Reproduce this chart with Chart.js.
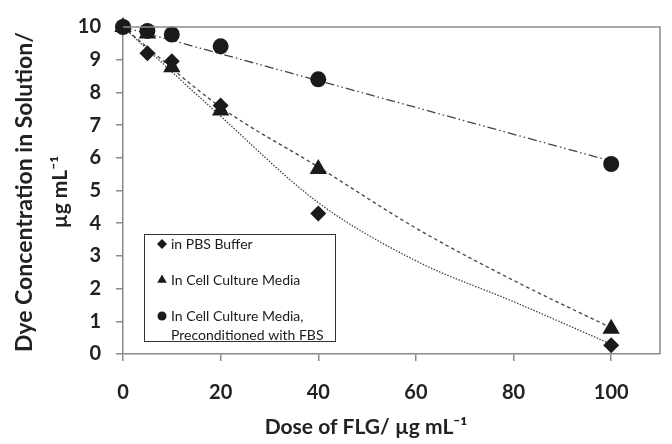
<!DOCTYPE html>
<html>
<head>
<meta charset="utf-8">
<script src="https://cdn.jsdelivr.net/npm/chart.js@4.4.1/dist/chart.umd.min.js"></script>
<style>
  html, body { margin: 0; padding: 0; background: #fff; }
  #wrap { width: 672px; height: 444px; }
</style>
</head>
<body>
<div id="wrap"><canvas id="doseChart" width="672" height="444"></canvas></div>
<script>
// measured points
const doses = [0, 5, 10, 20, 40, 100];
const pbsValues = [10, 9.2, 8.95, 7.6, 4.3, 0.27];
const mediaValues = [10, 9.8, 8.77, 7.45, 5.66, 0.77];
const fbsValues = [10, 9.88, 9.77, 9.41, 8.4, 5.81];

// trendlines
const trendDoses = [0, 20, 40, 60, 80, 100];
const pbsTrend = [10, 7.27, 4.63, 2.85, 1.6, 0.3];
const mediaTrend = [10, 7.55, 5.72, 3.85, 2.25, 0.8];
const fbsTrendDoses = [0, 100];
const fbsTrend = [10, 5.9];

const xTicks = [0, 20, 40, 60, 80, 100];
const yTicks = [0, 1, 2, 3, 4, 5, 6, 7, 8, 9, 10];

const xTitle = 'Dose of FLG/ µg mL⁻¹';
const yTitle = ['Dye Concentration in Solution/', 'µg mL⁻¹'];

const legendLabels = [
  ['in PBS Buffer'],
  ['In Cell Culture Media'],
  ['In Cell Culture Media,', 'Preconditioned with FBS']
];

function toPoints(xs, ys) {
  return xs.map((x, i) => ({ x: x, y: ys[i] }));
}

const ink = '#1a1a1a';
const axisGray = '#8a8a8a';
const titleFont = 'bold 21px Lato, sans-serif';

// box round the plot area
const frame = {
  id: 'frame',
  afterDraw(chart) {
    const a = chart.chartArea;
    const ctx = chart.ctx;
    ctx.save();
    ctx.strokeStyle = axisGray;
    ctx.lineWidth = 1.5;
    ctx.beginPath();
    ctx.moveTo(a.left, a.top);
    ctx.lineTo(a.right, a.top);
    ctx.lineTo(a.right, a.bottom);
    ctx.stroke();
    ctx.restore();
  }
};

// axis titles, placed where the original has them
const axisTitles = {
  id: 'axisTitles',
  afterDraw(chart) {
    const ctx = chart.ctx;
    ctx.save();
    ctx.fillStyle = '#222';
    ctx.textAlign = 'center';
    ctx.textBaseline = 'middle';
    ctx.font = titleFont;
    ctx.fillText(xTitle, 366, 427);
    ctx.translate(0, 192);
    ctx.rotate(-Math.PI / 2);
    ctx.font = 'bold 23px Lato, sans-serif';
    ctx.fillText(yTitle[0], 0, 25);
    ctx.font = 'bold 21px Lato, sans-serif';
    ctx.fillText(yTitle[1], 0, 60);
    ctx.restore();
  }
};

// legend box inside the plot
const boxLegend = {
  id: 'boxLegend',
  afterDraw(chart) {
    const ctx = chart.ctx;
    ctx.save();
    ctx.fillStyle = '#fff';
    ctx.fillRect(144, 234, 191, 107);
    ctx.strokeStyle = '#333';
    ctx.lineWidth = 1;
    ctx.strokeRect(144.5, 234.5, 191, 107);
    const styles = ['rectRot', 'triangle', 'circle'];
    const sizes = [5, 5.5, 4.5];
    const rows = [244, 280, 316];
    ctx.font = '14px Lato, sans-serif';
    ctx.textBaseline = 'middle';
    ctx.textAlign = 'left';
    rows.forEach((y, i) => {
      ctx.fillStyle = ink;
      ctx.strokeStyle = ink;
      Chart.helpers.drawPoint(ctx, {
        pointStyle: styles[i], radius: sizes[i], rotation: 0, borderWidth: 0
      }, 162, y);
      ctx.fillStyle = ink;
      legendLabels[i].forEach((t, j) => {
        ctx.fillText(t, 171, y + j * 19);
      });
    });
    ctx.restore();
  }
};

const ctx = document.getElementById('doseChart').getContext('2d');

const doseChart = new Chart(ctx, {
  type: 'scatter',
  data: {
    datasets: [
      {
        label: 'In Cell Culture Media, Preconditioned with FBS',
        data: toPoints(doses, fbsValues),
        pointStyle: 'circle', pointRadius: 8,
        backgroundColor: ink, borderColor: ink, borderWidth: 0,
        clip: false, order: 0
      },
      {
        label: 'In Cell Culture Media',
        data: toPoints(doses, mediaValues),
        pointStyle: 'triangle', pointRadius: 10,
        backgroundColor: ink, borderColor: ink, borderWidth: 0,
        clip: false, order: 1
      },
      {
        label: 'in PBS Buffer',
        data: toPoints(doses, pbsValues),
        pointStyle: 'rectRot', pointRadius: 8,
        backgroundColor: ink, borderColor: ink, borderWidth: 0,
        clip: false, order: 2
      },
      {
        label: 'PBS trend',
        data: toPoints(trendDoses, pbsTrend),
        showLine: true, pointRadius: 0, borderWidth: 1.3,
        borderColor: '#444', borderDash: [1.5, 1.5],
        cubicInterpolationMode: 'monotone',
        order: 5
      },
      {
        label: 'Media trend',
        data: toPoints(trendDoses, mediaTrend),
        showLine: true, pointRadius: 0, borderWidth: 1.3,
        borderColor: '#444', borderDash: [3.5, 3],
        cubicInterpolationMode: 'monotone',
        order: 5
      },
      {
        label: 'FBS trend',
        data: toPoints(fbsTrendDoses, fbsTrend),
        showLine: true, pointRadius: 0, borderWidth: 1.3,
        borderColor: '#444', borderDash: [9, 3, 1.5, 3, 1.5, 3],
        order: 5
      }
    ]
  },
  options: {
    responsive: false,
    animation: false,
    layout: { padding: { left: 0, right: 12, top: 15, bottom: 0 } },
    plugins: {
      legend: { display: false },
      tooltip: { enabled: false }
    },
    scales: {
      x: {
        type: 'linear',
        min: 0, max: 110,
        afterBuildTicks(axis) { axis.ticks = xTicks.map(v => ({ value: v })); },
        afterFit(axis) { axis.height = 90; },
        border: { color: axisGray, width: 1.5 },
        grid: { drawOnChartArea: false, drawTicks: true, tickLength: 7, color: axisGray, lineWidth: 1.5 },
        ticks: {
          color: '#222',
          padding: 20,
          font: { family: 'Lato, sans-serif', size: 20, weight: 'bold' }
        }
      },
      y: {
        type: 'linear',
        min: 0, max: 10,
        afterBuildTicks(axis) { axis.ticks = yTicks.map(v => ({ value: v })); },
        afterFit(axis) { axis.width = 123; },
        border: { color: axisGray, width: 1.5 },
        grid: { drawOnChartArea: false, drawTicks: true, tickLength: 7, color: axisGray, lineWidth: 1.5 },
        ticks: {
          color: '#222',
          padding: 15,
          font: { family: 'Lato, sans-serif', size: 20, weight: 'bold' }
        }
      }
    }
  },
  plugins: [frame, axisTitles, boxLegend]
});
</script>
</body>
</html>
